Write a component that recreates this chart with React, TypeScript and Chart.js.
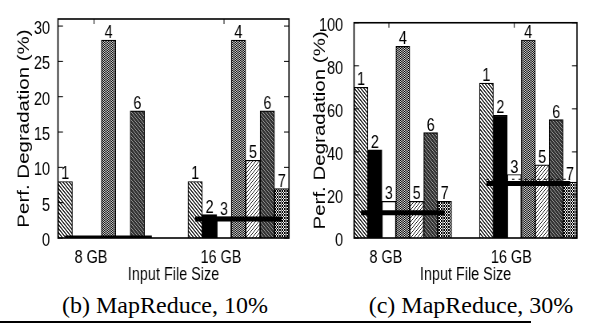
import React, { useEffect, useRef } from "react";
import { Chart, registerables } from "chart.js";

Chart.register(...registerables);

// ---------- data ----------
const seriesNames = ["1", "2", "3", "4", "5", "6", "7"];
const groupLabels = ["8 GB", "16 GB"];

const left8GB = [8, 0, 0, 28, 0, 18, 0];
const left16GB = [8, 3.3, 3.0, 28, 11, 18, 7];
const leftBaseline = [0, 2.7];
const leftUpper: (number | null)[] = [null, null];

const right8GB = [70, 41, 17, 89, 17, 49, 17];
const right16GB = [72, 57, 29.5, 92, 34, 55, 26];
const rightBaseline = [11.7, 25.3];
const rightUpper: (number | null)[] = [null, 27.3];

const leftYMax = 31;
const leftYStep = 5;
const rightYMax = 100;
const rightYStep = 20;

const xTitle = "Input File Size";
const yTitle = "Perf. Degradation (%)";
const captions = ["(b) MapReduce, 10%", "(c) MapReduce, 30%"];

// ---------- style ----------
const SANS = "'Liberation Sans', Arial, sans-serif";
const SX = 1.25; // canvas is drawn wider and shown horizontally compressed
const GAP = 2; // empty bar slots between groups
const TICK_IN_GROUP = 2.5;

const mod = (a: number, n: number) => ((a % n) + n) % n;

function makePattern(size: number, bg: string, fg: string, on: (x: number, y: number) => boolean) {
  const c = document.createElement("canvas");
  c.width = size;
  c.height = size;
  const g = c.getContext("2d")!;
  g.fillStyle = bg;
  g.fillRect(0, 0, size, size);
  g.fillStyle = fg;
  for (let y = 0; y < size; y++)
    for (let x = 0; x < size; x++) if (on(x, y)) g.fillRect(x, y, 1, 1);
  return g.createPattern(c, "repeat")!;
}

function makeFills(): (string | CanvasPattern)[] {
  return [
    makePattern(4, "#ffffff", "#333333", (x, y) => mod(x - y, 4) < 2),
    "#000000",
    "#ffffff",
    makePattern(2, "#dddddd", "#000000", (x, y) => mod(x + y, 2) === 0),
    makePattern(4, "#ffffff", "#222222", (x, y) => mod(x + y, 4) === 0),
    makePattern(4, "#333333", "#999999", (x, y) => mod(x - y, 4) === 0),
    makePattern(3, "#ffffff", "#000000", (x, y) => mod(x + y, 3) === 0 || mod(x - y, 3) === 0),
  ];
}

const decorPlugin = {
  id: "decor",
  afterDatasetsDraw(chart: any) {
    const { ctx, chartArea: a, scales } = chart;
    ctx.save();
    ctx.fillStyle = "#000";
    ctx.font = `18px ${SANS}`;
    ctx.textAlign = "center";
    ctx.textBaseline = "alphabetic";
    chart.data.datasets.forEach((ds: any, di: number) => {
      if (ds.type !== "bar") return;
      const meta = chart.getDatasetMeta(di);
      meta.data.forEach((el: any, j: number) => {
        const v = ds.data[j].y;
        if (v > 0) ctx.fillText(ds.label, el.x, el.y - 2);
      });
    });
    ctx.strokeStyle = "#000";
    ctx.lineWidth = 1.6;
    ctx.strokeRect(a.left, a.top, a.right - a.left, a.bottom - a.top);
    ctx.lineWidth = 1;
    ctx.beginPath();
    scales.y.ticks.forEach((t: any) => {
      const p = scales.y.getPixelForValue(t.value);
      ctx.moveTo(a.left, p);
      ctx.lineTo(a.left + 5 * SX, p);
      ctx.moveTo(a.right, p);
      ctx.lineTo(a.right - 5 * SX, p);
    });
    scales.x.ticks.forEach((t: any) => {
      const p = scales.x.getPixelForValue(t.value);
      ctx.moveTo(p, a.top);
      ctx.lineTo(p, a.top + 5);
    });
    ctx.stroke();
    ctx.restore();
  },
};

type PanelProps = {
  groups: number[][];
  baseline: number[];
  upper: (number | null)[];
  yMax: number;
  yStep: number;
  width: number;
  padRight: number;
  tickPad: number;
  left: number;
};

function Panel(props: PanelProps) {
  const ref = useRef<HTMLCanvasElement>(null);
  useEffect(() => {
    const { groups, baseline, upper, yMax, yStep, padRight, tickPad } = props;
    const fills = makeFills();
    const n = seriesNames.length;
    const slot = (g: number, i: number) => g * (n + GAP) + i + 0.5;
    const lineData = (vals: (number | null)[]) =>
      vals.flatMap((v, g) => [
        { x: slot(g, 0), y: v },
        { x: slot(g, n - 1), y: v },
        { x: slot(g, n - 1) + 1, y: null },
      ]);

    const datasets: any[] = [
      {
        type: "line",
        label: "base",
        data: lineData(baseline),
        borderColor: "#000",
        borderWidth: 5,
        borderCapStyle: "butt",
        pointRadius: 0,
        spanGaps: false,
        order: -2,
      },
      {
        type: "line",
        label: "upper",
        data: lineData(upper),
        borderColor: "#000",
        borderWidth: 1.2,
        borderDash: [3, 5],
        pointRadius: 0,
        spanGaps: false,
        order: -1,
      },
      ...seriesNames.map((name, i) => ({
        type: "bar",
        label: name,
        data: groups.map((grp, g) => ({ x: slot(g, i), y: grp[i] })),
        backgroundColor: fills[i],
        borderColor: "#000",
        borderWidth: 1.2,
        grouped: false,
        categoryPercentage: 1,
        barPercentage: 1,
      })),
    ];

    const chart = new Chart(ref.current!, {
      type: "bar",
      data: { datasets },
      plugins: [decorPlugin],
      options: {
        responsive: false,
        animation: false,
        devicePixelRatio: 1,
        layout: { padding: { top: 5, right: padRight * SX, left: 0, bottom: 0 } },
        plugins: { legend: { display: false }, tooltip: { enabled: false } },
        scales: {
          x: {
            type: "linear",
            min: 0,
            max: 2 * n + GAP,
            offset: false,
            grid: { display: false, drawTicks: false },
            border: { display: false },
            afterBuildTicks: (s: any) => {
              s.ticks = groupLabels.map((_, g) => ({ value: g * (n + GAP) + TICK_IN_GROUP }));
            },
            ticks: {
              autoSkip: false,
              maxRotation: 0,
              padding: 11,
              labelOffset: -3 * SX,
              color: "#000",
              font: { family: SANS, size: 18, lineHeight: 1 },
              callback: (_v: any, i: number) => groupLabels[i],
            },
            title: {
              display: true,
              text: xTitle,
              color: "#000",
              font: { family: SANS, size: 18, lineHeight: 1 },
              padding: { top: 0, bottom: 6 },
            },
            afterFit: (s: any) => {
              s.height = 52;
            },
          } as any,
          y: {
            min: 0,
            max: yMax,
            grid: { display: false, drawTicks: false },
            border: { display: false },
            ticks: {
              stepSize: yStep,
              includeBounds: false,
              padding: tickPad * SX,
              labelOffset: 3,
              color: "#000",
              font: { family: SANS, size: 18, lineHeight: 1 },
            },
            title: {
              display: true,
              text: yTitle,
              color: "#000",
              font: { family: SANS, size: 20.5, lineHeight: 1 },
              padding: { top: 24 * SX - 10.25, bottom: 0 },
            },
            afterFit: (s: any) => {
              s.width = 58 * SX;
            },
          } as any,
        },
      },
    } as any);
    return () => chart.destroy();
  }, []);
  return (
    <canvas
      ref={ref}
      width={Math.round(props.width * SX)}
      height={290}
      style={{ position: "absolute", left: props.left, top: 0, width: props.width, height: 290 }}
    />
  );
}

export default function App() {
  const capStyle: React.CSSProperties = {
    position: "absolute",
    top: 293,
    fontFamily: "'Liberation Serif', 'Times New Roman', serif",
    fontSize: 24,
    lineHeight: "24px",
    textAlign: "center",
    color: "#000",
    whiteSpace: "nowrap",
  };
  return (
    <div style={{ position: "absolute", left: 0, top: 0, width: 589, height: 323, overflow: "hidden", background: "#fff" }}>
      <Panel
        groups={[left8GB, left16GB]}
        baseline={leftBaseline}
        upper={leftUpper}
        yMax={leftYMax}
        yStep={leftYStep}
        width={296}
        padRight={7}
        tickPad={8}
        left={0}
      />
      <Panel
        groups={[right8GB, right16GB]}
        baseline={rightBaseline}
        upper={rightUpper}
        yMax={rightYMax}
        yStep={rightYStep}
        width={293}
        padRight={12}
        tickPad={11}
        left={296}
      />
      <div style={{ ...capStyle, left: 15, width: 300 }}>{captions[0]}</div>
      <div style={{ ...capStyle, left: 321, width: 300 }}>{captions[1]}</div>
      <div style={{ position: "absolute", left: 0, top: 321, width: 531, height: 2, background: "#000" }} />
    </div>
  );
}
